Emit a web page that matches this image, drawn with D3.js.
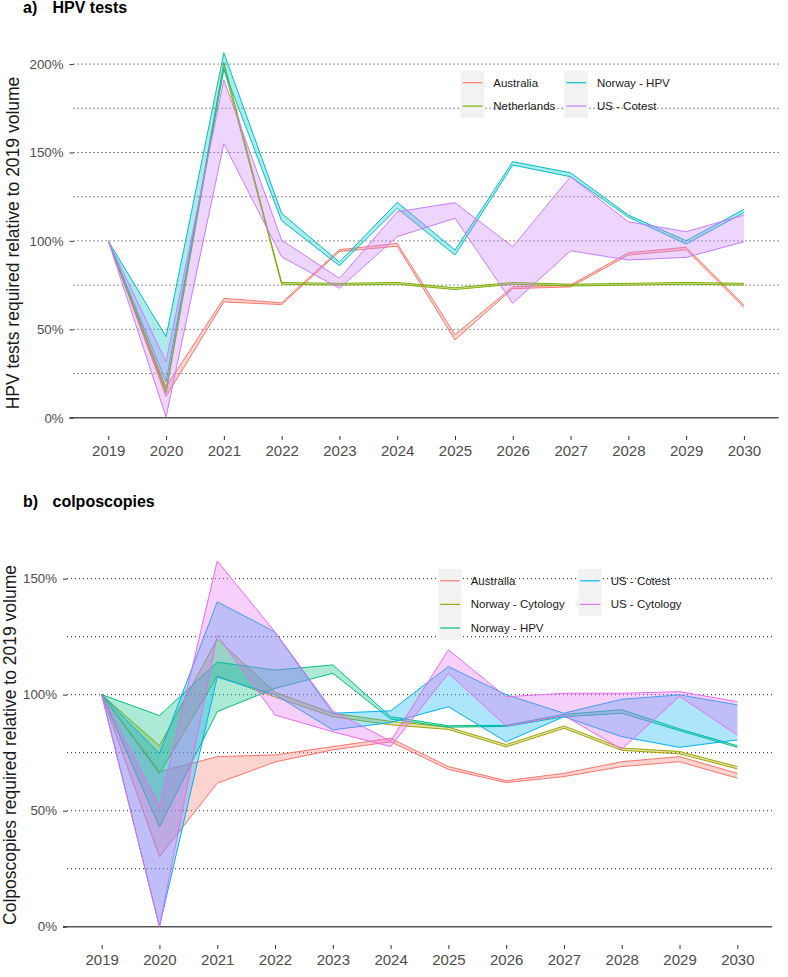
<!DOCTYPE html>
<html><head><meta charset="utf-8">
<script src="https://cdn.jsdelivr.net/npm/d3@7"></script>
<style>
body{margin:0;background:#fff;}
text{font-family:"Liberation Sans",Arial,sans-serif;}
</style>
</head><body>
<svg id="chart" width="788" height="977"></svg>
<script>
// ---------- DATA ----------
const years = [2019,2020,2021,2022,2023,2024,2025,2026,2027,2028,2029,2030];

// Panel a: HPV tests (% of 2019 volume), low / high bounds
const hpvSeries = ["Australia","Netherlands","Norway - HPV","US - Cotest"];
const hpvAustraliaLow   = [100, 12.0, 65.5, 64.0, 94.0, 97.0, 44.0, 73.0, 74.0, 92.0, 95.0, 62.4];
const hpvAustraliaHigh  = [100, 17.5, 67.5, 65.0, 95.0, 98.6, 47.0, 74.0, 75.0, 93.3, 96.4, 63.7];
const hpvNetherlandsLow = [100, 14.0, 198.0, 75.5, 75.0, 75.5, 72.5, 75.5, 74.5, 75.0, 75.5, 75.0];
const hpvNetherlandsHigh= [100, 16.0, 201.0, 76.5, 76.0, 76.5, 73.5, 76.5, 75.5, 76.0, 76.5, 76.0];
const hpvNorwayLow      = [100, 20.4, 197.0, 111.4, 86.0, 118.4, 92.0, 142.9, 136.3, 113.5, 98.2, 116.0];
const hpvNorwayHigh     = [100, 45.8, 206.4, 115.6, 88.0, 121.8, 94.8, 144.8, 138.5, 114.6, 100.1, 117.8];
const hpvUSLow          = [100, 0.5, 155.0, 91.0, 73.2, 102.4, 112.8, 64.7, 94.4, 89.2, 90.7, 99.5];
const hpvUSHigh         = [100, 31.7, 191.0, 100.5, 78.8, 116.5, 121.6, 96.7, 136.3, 110.8, 105.2, 114.6];
const hpvColors = ["#F8766D","#7CAE00","#00BFC4","#C77CFF"];

// Panel b: colposcopies (% of 2019 volume), low / high bounds
const colSeries = ["Australia","Norway - Cytology","Norway - HPV","US - Cotest","US - Cytology"];
const colAustraliaLow  = [100, 30.2, 61.8, 71.0, 76.2, 79.7, 67.8, 62.1, 64.7, 69.0, 71.1, 64.0];
const colAustraliaHigh = [100, 66.8, 73.3, 74.0, 77.6, 81.2, 69.0, 62.9, 66.1, 71.1, 73.3, 66.1];
const colNorCytLow     = [100, 66.0, 108.0, 99.0, 90.5, 87.0, 85.0, 77.5, 85.5, 76.0, 74.5, 68.0];
const colNorCytHigh    = [100, 78.0, 124.0, 101.0, 92.0, 88.5, 86.0, 78.5, 86.5, 77.0, 75.5, 69.0];
const colNorHpvLow     = [100, 43.0, 92.7, 102.7, 109.2, 89.5, 86.0, 86.3, 90.5, 92.0, 84.5, 77.3];
const colNorHpvHigh    = [100, 91.0, 114.0, 110.6, 112.8, 90.5, 86.6, 86.8, 91.5, 93.5, 85.2, 78.0];
const colUSCotLow      = [100, 0.0, 107.5, 100.0, 84.8, 88.0, 94.8, 79.7, 90.5, 81.9, 77.3, 80.5];
const colUSCotHigh     = [100, 74.6, 140.0, 127.0, 92.0, 93.0, 112.1, 100.0, 92.0, 98.0, 99.9, 95.6];
const colUSCytLow      = [100, 0.0, 125.7, 91.2, 84.0, 77.6, 109.2, 86.5, 91.0, 76.5, 99.3, 82.6];
const colUSCytHigh     = [100, 51.7, 157.6, 127.0, 93.0, 80.0, 119.3, 99.1, 100.6, 100.6, 101.3, 97.0];
const colColors = ["#F8766D","#A3A500","#00BF7D","#00B0F6","#E76BF3"];

const yTickValues = [0, 50, 100, 150, 200];

// ---------- DRAW ----------
const svg = d3.select("#chart");

function drawPanel(cfg) {
  const g = svg.append("g");
  const x = d3.scalePoint().domain(years).range([cfg.left, cfg.right]).padding(0.6);
  const y = d3.scaleLinear().domain(cfg.yDomain).range([cfg.bottom, cfg.top]);

  // gridlines (dotted) every 25%
  const grid = d3.range(25, cfg.yMax + 1, 25);
  g.selectAll(".grid").data(grid).enter().append("line")
    .attr("x1", cfg.left).attr("x2", cfg.right)
    .attr("y1", d => y(d)).attr("y2", d => y(d))
    .attr("stroke", "#222").attr("stroke-width", 1)
    .attr("stroke-dasharray", "1,3");

  // zero line
  g.append("line")
    .attr("x1", cfg.left - 4).attr("x2", cfg.right)
    .attr("y1", y(0)).attr("y2", y(0))
    .attr("stroke", "#555").attr("stroke-width", 1.4);

  // ribbons
  const area = d3.area().x((d, i) => x(years[i])).y0(d => y(d[0])).y1(d => y(d[1]));
  const lineLow = d3.line().x((d, i) => x(years[i])).y(d => y(d[0]));
  const lineHigh = d3.line().x((d, i) => x(years[i])).y(d => y(d[1]));
  cfg.series.forEach((s, k) => {
    const data = s.low.map((v, i) => [v, s.high[i]]);
    g.append("path").attr("d", area(data))
      .attr("fill", cfg.colors[k]).attr("fill-opacity", 0.32).attr("stroke", "none");
    g.append("path").attr("d", lineLow(data))
      .attr("fill", "none").attr("stroke", cfg.colors[k]).attr("stroke-width", 1);
    g.append("path").attr("d", lineHigh(data))
      .attr("fill", "none").attr("stroke", cfg.colors[k]).attr("stroke-width", 1);
  });

  // axes
  const xAxis = g.append("g").attr("transform", `translate(0,${cfg.bottom})`)
    .call(d3.axisBottom(x).tickSize(4).tickPadding(5.6));
  xAxis.select(".domain").remove();
  xAxis.selectAll("line").attr("stroke", "#333");
  xAxis.selectAll("text").attr("font-size", 15).attr("fill", "#4D4D4D")
    .style("font-family", '"Liberation Sans", Arial, sans-serif');

  const yAxis = g.append("g").attr("transform", `translate(${cfg.left},0)`)
    .call(d3.axisLeft(y).tickValues(yTickValues.filter(v => v <= cfg.yMax))
      .tickFormat(d => d + "%").tickSize(4).tickPadding(6));
  yAxis.select(".domain").remove();
  yAxis.selectAll("line").attr("stroke", "#333");
  yAxis.selectAll("text").attr("font-size", 13.3).attr("fill", "#4D4D4D")
    .style("font-family", '"Liberation Sans", Arial, sans-serif');

  // axis title
  g.append("text")
    .attr("transform", `translate(${cfg.titleX},${cfg.titleY}) rotate(-90)`)
    .attr("text-anchor", "middle").attr("dy", "0.35em")
    .attr("font-size", 17.5).attr("fill", "#1a1a1a")
    .text(cfg.yTitle);

  // panel title
  g.append("text").attr("x", 23).attr("y", cfg.headY)
    .attr("font-size", 16).attr("font-weight", "bold").attr("fill", "#000").text(cfg.tag);
  g.append("text").attr("x", 52.5).attr("y", cfg.headY)
    .attr("font-size", 16).attr("font-weight", "bold").attr("fill", "#000").text(cfg.head);

  // legend
  const L = cfg.legend;
  cfg.names.forEach((name, k) => {
    const col = Math.floor(k / L.rows), row = k % L.rows;
    const kx = L.colX[col], ky = L.top + row * L.rowH;
    g.append("rect").attr("x", kx).attr("y", ky).attr("width", L.keyW).attr("height", L.rowH)
      .attr("fill", "#F2F2F2");
    g.append("line").attr("x1", kx + 2).attr("x2", kx + L.keyW - 2)
      .attr("y1", ky + L.rowH / 2).attr("y2", ky + L.rowH / 2)
      .attr("stroke", cfg.colors[k]).attr("stroke-width", 1.2);
    g.append("text").attr("x", kx + L.keyW + 9).attr("y", ky + L.rowH / 2)
      .attr("dy", "0.35em").attr("font-size", 11.5).attr("fill", "#1a1a1a").text(name);
  });
}

drawPanel({
  left: 73.6, right: 778.6, top: 34.5, bottom: 436,
  yDomain: [-10.32, 216.72], yMax: 200,
  titleX: 13, titleY: 243, yTitle: "HPV tests required relative to 2019 volume",
  headY: 13, tag: "a)", head: "HPV tests",
  colors: hpvColors, names: hpvSeries,
  series: [
    {low: hpvAustraliaLow, high: hpvAustraliaHigh},
    {low: hpvNetherlandsLow, high: hpvNetherlandsHigh},
    {low: hpvNorwayLow, high: hpvNorwayHigh},
    {low: hpvUSLow, high: hpvUSHigh}
  ],
  legend: {colX: [460.7, 564.3], top: 71, rowH: 23.4, keyW: 23.6, rows: 2}
});

drawPanel({
  left: 67, right: 772, top: 542.7, bottom: 945,
  yDomain: [-7.88, 165.48], yMax: 150,
  titleX: 10, titleY: 745, yTitle: "Colposcopies required relative to 2019 volume",
  headY: 507, tag: "b)", head: "colposcopies",
  colors: colColors, names: colSeries,
  series: [
    {low: colAustraliaLow, high: colAustraliaHigh},
    {low: colNorCytLow, high: colNorCytHigh},
    {low: colNorHpvLow, high: colNorHpvHigh},
    {low: colUSCotLow, high: colUSCotHigh},
    {low: colUSCytLow, high: colUSCytHigh}
  ],
  legend: {colX: [438.3, 578.3], top: 569, rowH: 23.6, keyW: 23.4, rows: 3}
});
</script>
</body></html>
